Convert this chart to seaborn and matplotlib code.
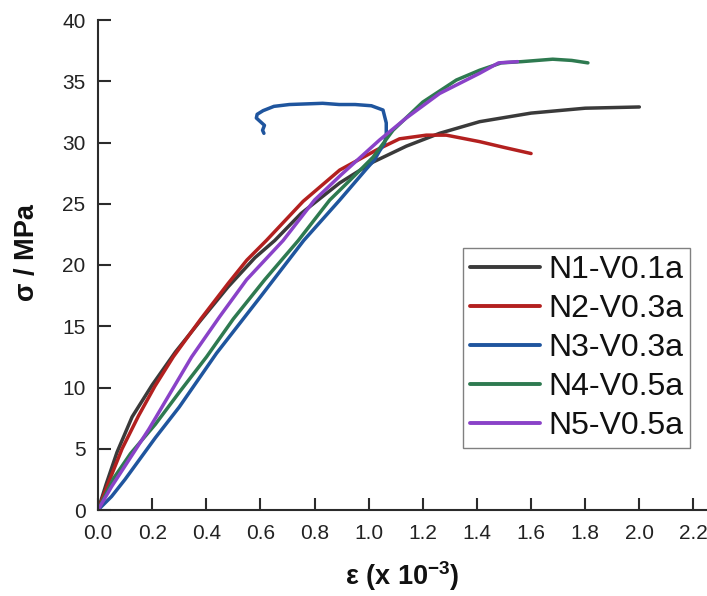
import numpy as np
import pandas as pd
import matplotlib
matplotlib.use("Agg")
import matplotlib.pyplot as plt
import seaborn as sns

# ---------------- data ----------------
series_names = ["N1-V0.1a", "N2-V0.3a", "N3-V0.3a", "N4-V0.5a", "N5-V0.5a"]
series_colors = ["#3a3a3a", "#b3201f", "#1f559e", "#2e7a50", "#8a42c8"]

n1_strain = [0, 0.03, 0.07, 0.126, 0.2, 0.286, 0.38, 0.48, 0.58, 0.653, 0.75,
             0.893, 1.016, 1.139, 1.262, 1.41, 1.6, 1.8, 2.0]
n1_stress = [0, 2.1, 4.7, 7.6, 10.2, 12.9, 15.5, 18.2, 20.6, 22.0, 24.2,
             26.7, 28.4, 29.7, 30.75, 31.7, 32.4, 32.8, 32.9]

n2_strain = [0, 0.04, 0.089, 0.15, 0.21, 0.278, 0.38, 0.481, 0.55, 0.622, 0.758,
             0.893, 1.03, 1.114, 1.213, 1.287, 1.41, 1.5, 1.6]
n2_stress = [0, 2.3, 5.0, 7.7, 10.1, 12.5, 15.6, 18.5, 20.4, 22.0, 25.2,
             27.75, 29.4, 30.3, 30.6, 30.6, 30.07, 29.6, 29.1]

n3_strain = [0, 0.05, 0.1, 0.212, 0.3, 0.438, 0.6, 0.76, 0.893, 0.99, 1.022,
             1.04, 1.058, 1.065, 1.065, 1.053, 1.01, 0.95, 0.891, 0.83, 0.707,
             0.65, 0.61, 0.588, 0.585, 0.6, 0.615, 0.608, 0.613]
n3_stress = [0, 1.1, 2.5, 5.9, 8.4, 12.8, 17.4, 22.0, 25.3, 27.8, 28.6,
             29.3, 29.9, 30.6, 31.6, 32.65, 33.0, 33.1, 33.1, 33.2, 33.1,
             32.95, 32.6, 32.3, 32.0, 31.7, 31.4, 31.0, 30.75]

n4_strain = [0, 0.058, 0.12, 0.212, 0.3, 0.401, 0.5, 0.616, 0.74, 0.856, 0.93,
             1.016, 1.09, 1.2, 1.324, 1.41, 1.49, 1.565, 1.68, 1.75, 1.81]
n4_stress = [0, 2.6, 4.6, 7.0, 9.6, 12.5, 15.6, 18.8, 22.0, 25.3, 26.9,
             28.8, 31.0, 33.3, 35.1, 35.9, 36.5, 36.6, 36.8, 36.7, 36.5]

n5_strain = [0, 0.05, 0.188, 0.346, 0.45, 0.549, 0.684, 0.8, 0.9, 1.04,
             1.139, 1.262, 1.41, 1.48, 1.55]
n5_stress = [0, 1.9, 6.6, 12.5, 15.8, 18.8, 22.0, 25.3, 27.4, 30.2,
             32.0, 34.0, 35.65, 36.5, 36.6]

x_ticks = [0.0, 0.2, 0.4, 0.6, 0.8, 1.0, 1.2, 1.4, 1.6, 1.8, 2.0, 2.2]
y_ticks = [0, 5, 10, 15, 20, 25, 30, 35, 40]

# ---------------- long-form table ----------------
all_x = [n1_strain, n2_strain, n3_strain, n4_strain, n5_strain]
all_y = [n1_stress, n2_stress, n3_stress, n4_stress, n5_stress]
rows = []
for name, xs, ys in zip(series_names, all_x, all_y):
    for i, (xv, yv) in enumerate(zip(xs, ys)):
        rows.append({"series": name, "strain": xv, "stress": yv, "order": i})
df = pd.DataFrame(rows)

# ---------------- style ----------------
sns.set_theme(style="ticks")
plt.rcParams["font.family"] = ["Liberation Sans", "DejaVu Sans"]
plt.rcParams["mathtext.fontset"] = "custom"
plt.rcParams["mathtext.rm"] = "Liberation Sans"
plt.rcParams["mathtext.bf"] = "Liberation Sans:bold"

W, H = 707, 596
fig = plt.figure(figsize=(W / 100, H / 100), dpi=100)
ax = fig.add_axes([98 / W, 86 / H, (W - 98) / W, 490 / H])

sns.lineplot(data=df, x="strain", y="stress", hue="series",
             palette=dict(zip(series_names, series_colors)),
             hue_order=series_names, sort=False, estimator=None,
             linewidth=2.5, ax=ax)

ax.set_xlim(0, 2.25)
ax.set_ylim(0, 40)
ax.set_xticks(x_ticks)
ax.set_xticklabels([f"{v:.1f}" for v in x_ticks])
ax.set_yticks(y_ticks)
ax.set_yticklabels([str(v) for v in y_ticks])

for side in ["top", "right"]:
    ax.spines[side].set_visible(False)
for side in ["left", "bottom"]:
    ax.spines[side].set_color("#2b2b2b")
    ax.spines[side].set_linewidth(1.5)

ax.tick_params(axis="both", direction="in", length=9, width=1.5,
               color="#2b2b2b", labelsize=15, labelcolor="#222222", pad=9)
ax.tick_params(axis="x", pad=10)

ax.set_xlabel(r"ε (x 10$^{\mathbf{-3}}$)", fontsize=19.5, fontweight="bold",
              color="#111111", labelpad=12)
ax.set_ylabel("σ / MPa", fontsize=19.5, fontweight="bold",
              color="#111111")
ax.yaxis.set_label_coords((40 - 98) / 609, (510 - 253) / 490)

handles, labels = ax.get_legend_handles_labels()
leg = ax.legend(handles, labels, loc="upper left",
                bbox_to_anchor=(463 / W, 1 - 248 / H),
                bbox_transform=fig.transFigure, borderaxespad=0,
                fontsize=23, frameon=True, fancybox=False, shadow=False,
                edgecolor="#808080", framealpha=1, handlelength=2.2,
                handletextpad=0.25, labelspacing=0.28, borderpad=0.22)
leg.get_frame().set_linewidth(1.0)
for line in leg.get_lines():
    line.set_linewidth(2.8)
for t in leg.get_texts():
    t.set_color("#111111")

fig.savefig("out.png", dpi=100)
